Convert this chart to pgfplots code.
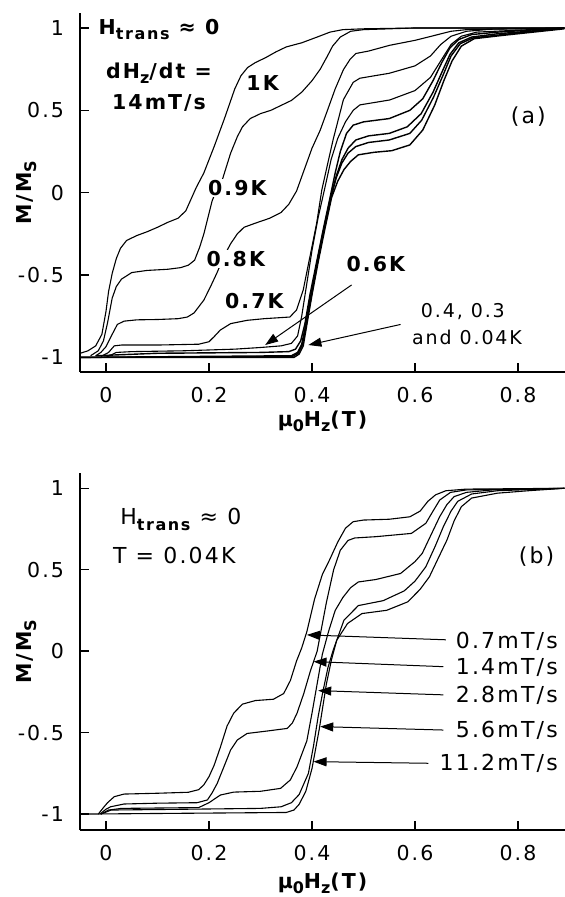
\documentclass[border=0pt]{standalone}
\usepackage{fontspec}
\setmainfont{DejaVu Sans}[LetterSpace=10]
\usepackage{pgfplots}
\pgfplotsset{compat=1.18}
\usetikzlibrary{arrows.meta}
\newcommand{\sbt}[1]{\raisebox{-0.45ex}{\fontsize{8}{8}\selectfont\bfseries #1}}
\newcommand{\fs}{\fontsize{10.25}{12}\selectfont}
\newcommand{\fl}{\fontsize{11}{13}\selectfont}
\tikzset{arr/.style={-{Triangle[length=6.5pt,width=4.5pt]}, line width=0.5pt, black}}
\pgfplotsset{
  myaxis/.style={
    scale only axis, width=242.5pt,
    xmin=-0.0505, xmax=0.8913,
    axis x line*=bottom, axis y line*=left,
    axis line style={line width=0.8pt},
    tick align=inside, major tick length=4.5pt,
    xtick={0,0.2,0.4,0.6,0.8}, ytick={-1,-0.5,0,0.5,1},
    tick style={black, line width=0.7pt},
    /pgf/number format/assume math mode=true,
    ticklabel style={font=\fs},
    xticklabel style={yshift=-4pt},
    yticklabel style={xshift=-4.5pt},
    xlabel={\bfseries μ\sbt{0}H\sbt{z}(T)},
    ylabel={\bfseries M/M\sbt{S}},
  },
  crv/.style={black, line width=0.55pt, mark=none},
  bnd/.style={black, line width=0.7pt, mark=none},
}
\begin{document}
\begin{tikzpicture}
\useasboundingbox (-40pt,-33.5pt) rectangle (242.5pt,415pt);
% ---------------- panel (b) ----------------
\begin{axis}[myaxis, at={(0pt,0pt)}, anchor=south west, height=178.5pt,
  ymin=-1.0976, ymax=1.0939,
  every axis x label/.style={at={(axis description cs:0.5,-0.1485)}, anchor=center, font=\fs},
  every axis y label/.style={at={(axis description cs:-0.1093,0.5)}, rotate=90, anchor=center, font=\fs}]
\addplot[crv] coordinates {(-0.015,-1.0)(-0.005,-0.96)(0.003,-0.93)(0.016,-0.893)(0.035,-0.877)(0.1,-0.872)(0.16,-0.866)(0.18,-0.85)(0.19,-0.82)(0.2,-0.77)(0.21,-0.7)(0.222,-0.59)(0.235,-0.46)(0.248,-0.38)(0.265,-0.325)(0.29,-0.303)(0.325,-0.295)(0.345,-0.26)(0.358,-0.18)(0.37,-0.06)(0.38,0.02)(0.39,0.12)(0.405,0.32)(0.42,0.47)(0.434,0.56)(0.45,0.67)(0.465,0.755)(0.48,0.795)(0.5,0.805)(0.55,0.81)(0.59,0.825)(0.61,0.86)(0.625,0.92)(0.64,0.96)(0.66,0.985)(0.7,0.995)(0.89,1.0)};
\addplot[crv] coordinates {(-0.012,-1.0)(0.0,-0.97)(0.009,-0.955)(0.035,-0.938)(0.1,-0.933)(0.177,-0.93)(0.197,-0.913)(0.206,-0.87)(0.216,-0.811)(0.229,-0.709)(0.242,-0.606)(0.255,-0.545)(0.274,-0.505)(0.313,-0.49)(0.352,-0.474)(0.362,-0.44)(0.371,-0.38)(0.384,-0.26)(0.397,-0.12)(0.41,0.0)(0.428,0.3)(0.442,0.5)(0.455,0.62)(0.47,0.68)(0.483,0.695)(0.524,0.703)(0.593,0.723)(0.621,0.785)(0.635,0.86)(0.648,0.928)(0.669,0.975)(0.7,0.99)(0.89,1.0)};
\addplot[crv] coordinates {(-0.01,-1.0)(0.005,-0.975)(0.03,-0.965)(0.18,-0.96)(0.2,-0.93)(0.222,-0.883)(0.248,-0.865)(0.3,-0.86)(0.339,-0.842)(0.358,-0.79)(0.371,-0.709)(0.39,-0.55)(0.4,-0.38)(0.41,-0.2)(0.42,-0.02)(0.432,0.12)(0.445,0.25)(0.46,0.33)(0.475,0.39)(0.49,0.425)(0.524,0.44)(0.572,0.477)(0.6,0.55)(0.614,0.6)(0.632,0.72)(0.648,0.826)(0.662,0.9)(0.676,0.949)(0.7,0.975)(0.75,0.99)(0.89,1.0)};
\addplot[crv] coordinates {(-0.01,-1.0)(0.01,-0.975)(0.1,-0.972)(0.3,-0.965)(0.34,-0.955)(0.36,-0.93)(0.375,-0.88)(0.393,-0.75)(0.403,-0.58)(0.412,-0.4)(0.421,-0.25)(0.431,-0.1)(0.441,0.005)(0.462,0.19)(0.49,0.28)(0.538,0.31)(0.579,0.37)(0.6,0.43)(0.621,0.518)(0.64,0.65)(0.655,0.764)(0.67,0.86)(0.683,0.92)(0.71,0.965)(0.76,0.985)(0.89,1.0)};
\addplot[crv] coordinates {(-0.05,-1.0)(0.35,-0.99)(0.365,-0.975)(0.375,-0.94)(0.388,-0.86)(0.4,-0.72)(0.407,-0.6)(0.414,-0.48)(0.428,-0.2)(0.438,-0.05)(0.448,0.067)(0.469,0.17)(0.497,0.231)(0.545,0.251)(0.586,0.303)(0.61,0.38)(0.628,0.457)(0.645,0.57)(0.662,0.682)(0.676,0.8)(0.69,0.887)(0.71,0.94)(0.76,0.97)(0.82,0.985)(0.89,1.0)};
\node[anchor=base west, font=\fl] at (axis cs:0.014,0.775) {H\sbt{trans} ≈ 0};
\node[anchor=base west, font=\fl] at (axis cs:0.0,0.54) {T = 0.04K};
\node[font=\fl] at (axis cs:0.836,0.58) {(b)};
\node[anchor=east, font=\fl, inner sep=0pt] at (axis cs:0.878,0.058) {0.7mT/s};
\node[anchor=east, font=\fl, inner sep=0pt] at (axis cs:0.878,-0.10) {1.4mT/s};
\node[anchor=east, font=\fl, inner sep=0pt] at (axis cs:0.878,-0.273) {2.8mT/s};
\node[anchor=east, font=\fl, inner sep=0pt] at (axis cs:0.878,-0.488) {5.6mT/s};
\node[anchor=east, font=\fl, inner sep=0pt] at (axis cs:0.878,-0.688) {11.2mT/s};
\draw[arr] (axis cs:0.66,0.07) -- (axis cs:0.39,0.1);
\draw[arr] (axis cs:0.655,-0.095) -- (axis cs:0.403,-0.064);
\draw[arr] (axis cs:0.655,-0.268) -- (axis cs:0.412,-0.242);
\draw[arr] (axis cs:0.655,-0.484) -- (axis cs:0.416,-0.463);
\draw[arr] (axis cs:0.626,-0.688) -- (axis cs:0.403,-0.678);
\end{axis}
% ---------------- panel (a) ----------------
\begin{axis}[myaxis, at={(0pt,229pt)}, anchor=south west, height=179.5pt,
  ymin=-1.0887, ymax=1.0911,
  every axis x label/.style={at={(axis description cs:0.5,-0.1365)}, anchor=center, font=\fs},
  every axis y label/.style={at={(axis description cs:-0.1093,0.5)}, rotate=90, anchor=center, font=\fs}]
% 1K
\addplot[crv] coordinates {(-0.05,-0.975)(-0.035,-0.96)(-0.02,-0.93)(-0.008,-0.86)(0.0,-0.72)(0.005,-0.6)(0.012,-0.49)(0.02,-0.4)(0.028,-0.338)(0.04,-0.29)(0.06,-0.26)(0.08,-0.237)(0.1,-0.21)(0.12,-0.18)(0.14,-0.155)(0.155,-0.11)(0.165,-0.04)(0.175,0.03)(0.19,0.12)(0.21,0.28)(0.23,0.45)(0.25,0.63)(0.262,0.71)(0.275,0.76)(0.29,0.79)(0.31,0.82)(0.33,0.855)(0.35,0.885)(0.38,0.91)(0.41,0.945)(0.435,0.975)(0.46,0.99)(0.5,0.995)(0.6,1.0)(0.89,1.0)};
% 0.9K
\addplot[crv] coordinates {(-0.03,-0.99)(-0.015,-0.96)(-0.005,-0.9)(0.003,-0.79)(0.012,-0.64)(0.02,-0.57)(0.03,-0.525)(0.05,-0.485)(0.08,-0.472)(0.12,-0.465)(0.145,-0.455)(0.16,-0.44)(0.172,-0.41)(0.182,-0.33)(0.19,-0.25)(0.198,-0.15)(0.206,-0.05)(0.215,0.02)(0.226,0.08)(0.242,0.24)(0.255,0.34)(0.265,0.40)(0.28,0.45)(0.3,0.48)(0.32,0.50)(0.34,0.53)(0.36,0.56)(0.38,0.61)(0.4,0.68)(0.416,0.75)(0.43,0.83)(0.44,0.89)(0.455,0.945)(0.475,0.98)(0.5,0.99)(0.6,1.0)(0.89,1.0)};
% 0.8K
\addplot[crv] coordinates {(-0.02,-0.99)(-0.01,-0.97)(0.0,-0.935)(0.012,-0.86)(0.022,-0.8)(0.035,-0.78)(0.06,-0.772)(0.1,-0.77)(0.14,-0.765)(0.158,-0.755)(0.171,-0.73)(0.19,-0.652)(0.203,-0.57)(0.215,-0.49)(0.23,-0.38)(0.242,-0.31)(0.255,-0.25)(0.268,-0.21)(0.29,-0.185)(0.318,-0.155)(0.34,-0.12)(0.355,-0.07)(0.37,0.01)(0.385,0.14)(0.4,0.27)(0.416,0.38)(0.43,0.5)(0.445,0.63)(0.461,0.747)(0.474,0.81)(0.485,0.845)(0.51,0.86)(0.551,0.895)(0.6,0.925)(0.642,0.958)(0.67,0.98)(0.7,0.99)(0.89,1.0)};
% 0.7K
\addplot[crv] coordinates {(-0.01,-0.995)(0.005,-0.97)(0.016,-0.93)(0.03,-0.925)(0.1,-0.925)(0.18,-0.92)(0.2,-0.905)(0.21,-0.874)(0.222,-0.834)(0.242,-0.795)(0.274,-0.775)(0.307,-0.765)(0.357,-0.755)(0.37,-0.712)(0.383,-0.59)(0.396,-0.388)(0.409,-0.186)(0.419,0.016)(0.43,0.17)(0.441,0.322)(0.461,0.565)(0.48,0.67)(0.493,0.695)(0.55,0.725)(0.6,0.77)(0.63,0.83)(0.65,0.9)(0.67,0.95)(0.7,0.98)(0.75,0.993)(0.89,1.0)};
% 0.6K
\addplot[crv] coordinates {(0.0,-1.0)(0.02,-0.97)(0.05,-0.965)(0.15,-0.96)(0.25,-0.95)(0.3,-0.94)(0.34,-0.93)(0.36,-0.915)(0.372,-0.87)(0.38,-0.75)(0.39,-0.55)(0.4,-0.35)(0.412,-0.15)(0.425,0.03)(0.437,0.2)(0.45,0.33)(0.465,0.43)(0.48,0.5)(0.493,0.533)(0.551,0.563)(0.6,0.62)(0.63,0.7)(0.65,0.8)(0.67,0.9)(0.69,0.95)(0.72,0.975)(0.89,1.0)};
% low-T bundle
\addplot[bnd] coordinates {(-0.02,-0.99)(0.1,-0.975)(0.3,-0.97)(0.355,-0.965)(0.368,-0.95)(0.378,-0.9)(0.386,-0.8)(0.396,-0.62)(0.409,-0.42)(0.422,-0.22)(0.435,-0.03)(0.445,0.12)(0.455,0.25)(0.467,0.36)(0.48,0.41)(0.5,0.43)(0.55,0.45)(0.59,0.5)(0.615,0.57)(0.635,0.68)(0.652,0.79)(0.668,0.88)(0.685,0.93)(0.71,0.96)(0.76,0.975)(0.89,1.0)};
\addplot[bnd] coordinates {(-0.05,-1.0)(0.36,-0.99)(0.372,-0.97)(0.38,-0.92)(0.388,-0.8)(0.398,-0.62)(0.41,-0.42)(0.423,-0.22)(0.436,-0.03)(0.447,0.1)(0.458,0.2)(0.47,0.27)(0.485,0.32)(0.51,0.345)(0.55,0.36)(0.585,0.4)(0.612,0.48)(0.635,0.61)(0.652,0.73)(0.668,0.84)(0.685,0.91)(0.71,0.945)(0.76,0.965)(0.82,0.98)(0.89,1.0)};
\addplot[bnd] coordinates {(-0.05,-1.0)(0.362,-0.995)(0.373,-0.975)(0.381,-0.925)(0.389,-0.8)(0.399,-0.62)(0.411,-0.42)(0.424,-0.22)(0.437,-0.03)(0.447,0.09)(0.458,0.18)(0.47,0.24)(0.485,0.28)(0.51,0.305)(0.55,0.32)(0.59,0.36)(0.613,0.44)(0.636,0.58)(0.654,0.71)(0.67,0.83)(0.688,0.905)(0.713,0.94)(0.77,0.96)(0.89,1.0)};
\addplot[bnd] coordinates {(-0.05,-1.0)(0.365,-1.0)(0.375,-0.98)(0.383,-0.93)(0.39,-0.8)(0.4,-0.62)(0.412,-0.42)(0.425,-0.22)(0.438,-0.03)(0.45,0.07)(0.462,0.14)(0.475,0.19)(0.49,0.23)(0.52,0.245)(0.555,0.255)(0.59,0.29)(0.615,0.38)(0.638,0.53)(0.656,0.68)(0.672,0.8)(0.69,0.89)(0.715,0.935)(0.77,0.955)(0.83,0.975)(0.89,0.995)};
\node[anchor=base, font=\bfseries\fs] at (axis cs:0.103,0.959) {H\sbt{trans} ≈ 0};
\node[anchor=base, font=\bfseries\fs] at (axis cs:0.103,0.696) {dH\sbt{z}/dt =};
\node[anchor=base, font=\bfseries\fs] at (axis cs:0.103,0.504) {14mT/s};
\node[font=\bfseries\fs, fill=white, inner sep=0.5pt] at (axis cs:0.304,0.668) {1K};
\node[font=\bfseries\fs, fill=white, inner sep=0.5pt] at (axis cs:0.255,0.028) {0.9K};
\node[font=\bfseries\fs, fill=white, inner sep=0.5pt] at (axis cs:0.252,-0.403) {0.8K};
\node[font=\bfseries\fs, fill=white, inner sep=0.5pt] at (axis cs:0.288,-0.657) {0.7K};
\node[font=\bfseries\fs, fill=white, inner sep=0.5pt] at (axis cs:0.524,-0.433) {0.6K};
\node[font=\fl] at (axis cs:0.82,0.461) {(a)};
\node[font=\fontsize{9.5}{11}\selectfont] at (axis cs:0.693,-0.722) {0.4, 0.3};
\node[font=\fontsize{9.5}{11}\selectfont] at (axis cs:0.701,-0.879) {and 0.04K};
\draw[arr] (axis cs:0.477,-0.56) -- (axis cs:0.309,-0.925);
\draw[arr] (axis cs:0.572,-0.80) -- (axis cs:0.393,-0.925);
\end{axis}
\end{tikzpicture}
\end{document}
